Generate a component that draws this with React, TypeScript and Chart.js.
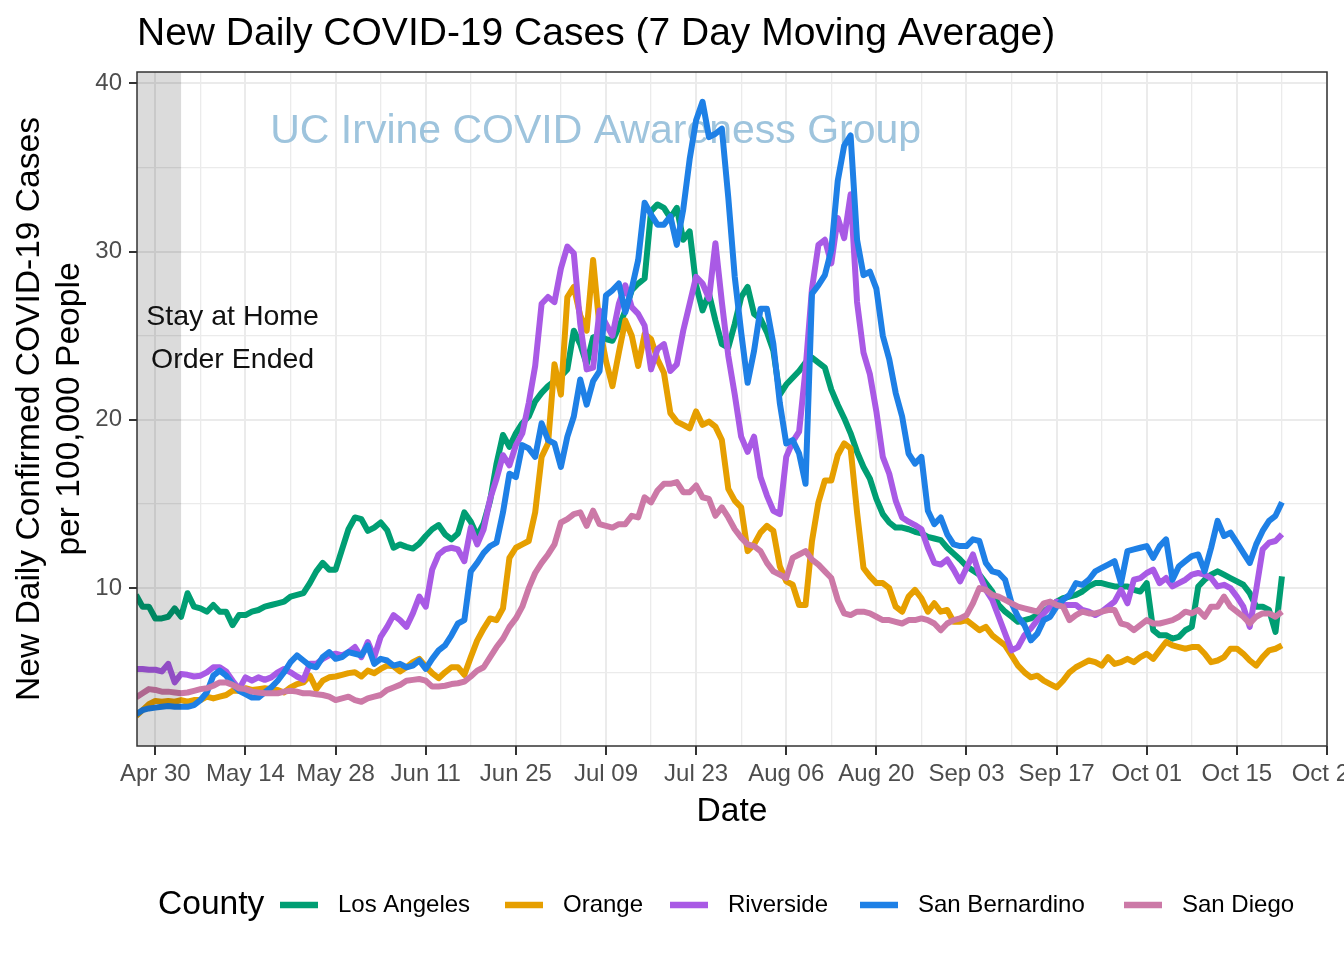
import React, { useEffect, useRef } from 'react';
import { Chart, registerables } from 'chart.js';

Chart.register(...registerables);

// x values are days relative to Apr 30, 2020; first observation is Apr 27 (day -3)
const FIRST_DAY = -3;

const seriesNames = ['Los Angeles', 'Orange', 'Riverside', 'San Bernardino', 'San Diego'];
const seriesColors = ['#009E73', '#E69F00', '#A95AE5', '#1E80E6', '#CC79A7'];

const losAngeles = [
  9.6, 8.9, 8.9, 8.2, 8.2, 8.3, 8.8, 8.3, 9.7, 8.9,
  8.8, 8.6, 9.0, 8.6, 8.6, 7.8, 8.4, 8.4, 8.6, 8.7,
  8.9, 9.0, 9.1, 9.2, 9.5, 9.6, 9.7, 10.3, 11.0, 11.5,
  11.1, 11.1, 12.3, 13.5, 14.2, 14.1, 13.4, 13.6, 13.9, 13.45,
  12.4, 12.6, 12.45, 12.35, 12.65, 13.1, 13.5, 13.75, 13.2, 12.9,
  13.25, 14.5, 13.95, 13.1, 13.85, 15.2, 17.4, 19.1, 18.4, 19.2,
  19.8, 20.2, 21.1, 21.6, 22.0, 22.3, 22.6, 23.0, 25.3, 24.5,
  23.3, 24.9, 25.0, 24.8, 24.7, 25.5, 26.5, 27.7, 28.1, 28.4,
  32.4, 32.8, 32.6, 32.0, 32.6, 30.7, 31.2, 28.0, 26.5, 27.5,
  25.9, 24.5, 24.3, 25.7, 27.3, 27.9, 26.3, 26.0, 25.2, 24.1,
  21.5, 22.1, 22.5, 22.9, 23.4, 23.7, 23.4, 23.1, 21.8, 20.9,
  20.1, 19.2, 18.1, 17.2, 16.5, 15.3, 14.4, 13.9, 13.6, 13.6,
  13.5, 13.35, 13.25, 13.05, 12.95, 12.85, 12.4, 12.05, 11.7, 11.3,
  11.05, 10.8, 10.3, 9.8, 9.0, 8.6, 8.3, 8.0, 8.1, 8.2,
  8.4, 8.6, 8.9, 9.2, 9.4, 9.5, 9.6, 9.8, 10.1, 10.3,
  10.3, 10.2, 10.1, 10.1, 10.1, 9.9, 9.8, 10.3, 7.5, 7.2,
  7.2, 7.0, 7.1, 7.5, 7.7, 10.1, 10.5, 10.8, 11.0, 10.8,
  10.6, 10.4, 10.2, 9.7, 8.9, 8.9, 8.7, 7.4, 10.7,
];

const orange = [
  2.4, 2.75, 3.1, 3.3, 3.25, 3.3, 3.25, 3.35, 3.25, 3.35,
  3.35, 3.55, 3.45, 3.55, 3.65, 3.9, 3.9, 4.05, 3.95, 4.0,
  4.05, 4.0, 3.95, 3.8, 4.1, 4.3, 4.4, 4.8, 4.0, 4.5,
  4.7, 4.75, 4.85, 4.95, 5.0, 4.75, 5.1, 4.95, 5.2, 5.4,
  5.35, 5.05, 5.3, 5.6, 5.8, 5.35, 4.95, 4.65, 5.0, 5.3,
  5.3, 4.85, 5.9, 6.9, 7.6, 8.2, 8.1, 8.8, 11.8, 12.4,
  12.6, 12.8, 14.5, 17.8, 18.6, 23.3, 21.5, 27.3, 27.9, 26.2,
  25.3, 29.5, 25.5, 23.5, 22.0, 24.0, 25.9, 25.0, 23.2, 25.1,
  24.8, 23.6, 22.8, 20.4, 19.9, 19.7, 19.5, 20.5, 19.7, 19.9,
  19.6, 18.8, 15.9, 15.2, 14.8, 12.2, 12.6, 13.3, 13.7, 13.4,
  11.3, 10.4, 10.2, 9.0, 9.0, 12.8, 15.1, 16.4, 16.4, 17.9,
  18.6, 18.3, 14.5, 11.2, 10.7, 10.3, 10.3, 10.0, 8.9, 8.6,
  9.5, 9.9, 9.4, 8.6, 9.1, 8.6, 8.7, 8.0, 8.0, 8.1,
  7.8, 7.5, 7.7, 7.2, 6.9, 6.6, 6.0, 5.4, 5.0, 4.7,
  4.8, 4.5, 4.3, 4.1, 4.5, 5.0, 5.3, 5.5, 5.7, 5.6,
  5.4, 5.9, 5.5, 5.6, 5.8, 5.6, 5.9, 6.1, 5.8, 6.3,
  6.8, 6.6, 6.5, 6.4, 6.5, 6.5, 6.1, 5.6, 5.7, 5.9,
  6.4, 6.4, 6.1, 5.7, 5.4, 5.9, 6.3, 6.4, 6.6,
];

const riverside = [
  5.2, 5.2, 5.15, 5.15, 5.05, 5.5, 4.4, 4.9, 4.85, 4.75,
  4.8, 5.0, 5.3, 5.3, 5.05, 4.5, 4.0, 4.7, 4.5, 4.7,
  4.55, 4.7, 5.0, 5.2, 5.0, 4.75, 4.55, 5.5, 5.5, 5.8,
  6.0, 6.1, 6.0, 6.2, 6.5, 5.9, 6.8, 5.9, 7.1, 7.7,
  8.4, 8.1, 7.7, 8.5, 9.5, 8.9, 11.1, 12.0, 12.3, 12.4,
  12.3, 11.6, 13.6, 12.6, 13.5, 15.3, 16.5, 17.9, 17.3, 18.5,
  19.2, 21.0, 23.2, 26.9, 27.3, 27.0, 29.0, 30.3, 29.9, 25.7,
  23.0, 23.1, 26.5, 25.7, 25.0, 26.9, 28.0, 26.7, 26.3, 25.6,
  23.0, 24.2, 24.5, 22.9, 23.3, 25.3, 26.9, 28.5, 28.1, 27.2,
  30.5, 27.0, 23.8, 21.5, 19.0, 18.1, 19.0, 16.6, 15.5, 14.6,
  14.4, 17.8, 18.7, 19.3, 23.0, 27.8, 30.4, 30.7, 29.3, 32.0,
  30.8, 33.4, 27.0, 24.0, 22.7, 20.5, 17.8, 16.8, 15.2, 14.2,
  13.95, 13.75, 13.5, 12.4, 11.5, 11.4, 11.7, 11.1, 10.4, 11.2,
  12.0, 10.8, 9.9, 9.3, 8.3, 7.3, 6.3, 6.5, 7.2, 7.6,
  8.1, 8.5, 8.9, 9.2, 9.0, 9.0, 9.0, 8.7, 8.6, 8.4,
  8.6, 8.9, 9.2, 9.9, 9.1, 10.5, 10.6, 10.9, 11.1, 10.3,
  10.6, 10.1, 10.3, 10.5, 10.8, 10.9, 10.8, 10.6, 10.1, 10.2,
  10.0, 9.5, 8.9, 7.7, 9.9, 12.3, 12.7, 12.8, 13.2,
];

const sanBernardino = [
  2.5, 2.75, 2.85, 2.9, 2.95, 3.0, 2.95, 2.95, 2.95, 3.05,
  3.35, 3.8, 4.8, 5.1, 4.8, 4.3, 3.9, 3.7, 3.5, 3.5,
  3.8, 4.1, 4.5, 5.0, 5.6, 6.0, 5.7, 5.4, 5.3, 5.9,
  6.2, 5.8, 5.9, 6.2, 6.1, 6.0, 6.6, 5.5, 5.8, 5.7,
  5.4, 5.5, 5.3, 5.4, 5.7, 5.2, 5.8, 6.3, 6.6, 7.2,
  7.9, 8.1, 11.0, 11.5, 12.1, 12.5, 12.7, 14.5, 16.8, 16.6,
  18.5, 18.3, 17.8, 19.8, 18.8, 18.6, 17.2, 19.0, 20.2, 22.4,
  20.9, 22.3, 22.9, 27.4, 27.7, 28.1, 26.4, 27.8, 29.5, 32.9,
  32.2, 31.6, 31.6, 32.1, 30.4, 32.5, 35.5, 37.8, 38.9, 36.8,
  37.0, 37.3, 33.2, 28.5, 25.2, 22.2, 24.1, 26.6, 26.6, 24.5,
  21.0, 18.6, 18.8, 18.0, 16.2, 27.5, 28.0, 28.6, 30.1, 34.2,
  36.3, 36.9, 30.7, 28.6, 28.8, 27.8, 25.0, 23.6, 21.6, 20.2,
  18.0, 17.4, 17.8, 14.6, 13.8, 14.2, 13.2, 12.6, 12.5, 12.5,
  12.9, 12.8, 11.5, 11.0, 10.9, 10.5, 9.1, 8.3, 7.8, 6.9,
  7.3, 8.1, 8.3, 8.9, 9.3, 9.6, 10.3, 10.2, 10.5, 11.0,
  11.2, 11.4, 11.6, 10.3, 12.2, 12.3, 12.4, 12.5, 11.8, 12.5,
  12.9, 10.5, 11.3, 11.6, 11.9, 12.0, 11.0, 12.4, 14.0, 13.1,
  13.3, 12.7, 12.1, 11.5, 12.6, 13.4, 14.0, 14.3, 15.1,
];

const sanDiego = [
  3.5, 3.75, 4.0, 3.95, 3.85, 3.85, 3.8, 3.75, 3.8, 3.9,
  4.0, 4.05, 4.2, 4.4, 4.4, 4.25, 4.05, 4.0, 3.85, 3.8,
  3.75, 3.75, 3.75, 3.85, 3.9, 3.85, 3.75, 3.75, 3.7, 3.65,
  3.55, 3.35, 3.45, 3.55, 3.35, 3.25, 3.45, 3.55, 3.65, 3.95,
  4.1, 4.25, 4.5, 4.55, 4.6, 4.5, 4.15, 4.15, 4.2, 4.3,
  4.35, 4.45, 4.75, 5.1, 5.3, 5.9, 6.5, 7.0, 7.7, 8.2,
  8.9, 10.0, 10.9, 11.5, 12.0, 12.6, 13.9, 14.1, 14.4, 14.5,
  13.7, 14.6, 13.8, 13.7, 13.6, 13.8, 13.8, 14.3, 14.2, 15.4,
  15.1, 15.8, 16.2, 16.2, 16.3, 15.7, 15.7, 16.1, 15.4, 15.3,
  14.3, 14.8, 14.2, 13.5, 13.0, 12.6, 12.5, 12.2, 11.5, 11.0,
  10.8, 10.6, 11.8, 12.0, 12.2, 11.7, 11.4, 11.0, 10.6, 9.3,
  8.5, 8.4, 8.6, 8.6, 8.5, 8.3, 8.1, 8.1, 8.0, 7.9,
  8.1, 8.1, 8.2, 8.1, 7.9, 7.5, 7.9, 8.1, 8.2, 8.4,
  9.1, 10.0, 9.9, 9.6, 9.5, 9.3, 9.1, 8.9, 8.8, 8.7,
  8.6, 9.1, 9.2, 9.0, 8.9, 8.1, 8.4, 8.6, 8.5, 8.5,
  8.6, 8.7, 8.7, 7.9, 7.8, 7.5, 7.8, 8.1, 7.9, 7.9,
  8.0, 8.1, 8.3, 8.6, 8.5, 8.7, 8.3, 8.9, 8.9, 9.5,
  8.9, 8.6, 8.3, 7.9, 8.3, 8.5, 8.5, 8.3, 8.6,
];

const seriesValues = [losAngeles, orange, riverside, sanBernardino, sanDiego];

// axis ticks (days relative to Apr 30)
const xTickDays = [0, 14, 28, 42, 56, 70, 84, 98, 112, 126, 140, 154, 168, 182];
const xTickLabels = ['Apr 30', 'May 14', 'May 28', 'Jun 11', 'Jun 25', 'Jul 09', 'Jul 23', 'Aug 06', 'Aug 20', 'Sep 03', 'Sep 17', 'Oct 01', 'Oct 15', 'Oct 29'];
const xMinorDays = [7, 21, 35, 49, 63, 77, 91, 105, 119, 133, 147, 161, 175];
const yTickValues = [10, 20, 30, 40];
const yMinorValues = [5, 15, 25, 35];

const TITLE = 'New Daily COVID-19 Cases (7 Day Moving Average)';
const X_TITLE = 'Date';
const Y_TITLE = ['New Daily Confirmed COVID-19 Cases', 'per 100,000 People'];
const LEGEND_TITLE = 'County';
const WATERMARK = 'UC Irvine COVID Awareness Group';
const NOTE_LINES = ['Stay at Home', 'Order Ended'];

const FONT = '"Liberation Sans", Arial, Helvetica, sans-serif';

const X_MIN = -2.85;
const X_MAX = 182;
const Y_MIN = 0.62;
const Y_MAX = 40.67;
const SHADE_END_DAY = 4;
const NOTE_DAY = 12;
const NOTE_VALUE = 24.85;
const WATERMARK_DAY = 68.4;
const WATERMARK_VALUE = 37.1;

const LEGEND_KEY_X = [280, 505, 670, 860, 1124];

const isMajorX = (v: number) => xTickDays.includes(v);
const isMajorY = (v: number) => yTickValues.includes(v);

const decorPlugin = {
  id: 'decor',
  beforeDatasetsDraw(chart: any) {
    const { ctx, scales } = chart;
    const x = scales.x;
    const y = scales.y;
    ctx.save();
    ctx.font = `41px ${FONT}`;
    ctx.fillStyle = '#9EC4DD';
    ctx.textAlign = 'center';
    ctx.textBaseline = 'middle';
    ctx.fillText(WATERMARK, x.getPixelForValue(WATERMARK_DAY), y.getPixelForValue(WATERMARK_VALUE));
    ctx.restore();
  },
  afterDatasetsDraw(chart: any) {
    const { ctx, chartArea: a, scales } = chart;
    const x = scales.x;
    const y = scales.y;
    ctx.save();
    // shaded period
    ctx.fillStyle = 'rgba(0,0,0,0.14)';
    const xr = x.getPixelForValue(SHADE_END_DAY);
    ctx.fillRect(a.left, a.top, xr - a.left, a.bottom - a.top);
    // annotation
    ctx.fillStyle = '#111111';
    ctx.font = `28.5px ${FONT}`;
    ctx.textAlign = 'center';
    ctx.textBaseline = 'middle';
    const cx = x.getPixelForValue(NOTE_DAY);
    const cy = y.getPixelForValue(NOTE_VALUE);
    ctx.fillText(NOTE_LINES[0], cx, cy - 21.5);
    ctx.fillText(NOTE_LINES[1], cx, cy + 21.5);
    // panel border
    ctx.strokeStyle = '#333333';
    ctx.lineWidth = 1.5;
    ctx.strokeRect(a.left, a.top, a.right - a.left, a.bottom - a.top);
    ctx.restore();
  },
  afterDraw(chart: any) {
    const { ctx, chartArea: a } = chart;
    ctx.save();
    // title
    ctx.fillStyle = '#000000';
    ctx.font = `39px ${FONT}`;
    ctx.textAlign = 'left';
    ctx.textBaseline = 'alphabetic';
    ctx.fillText(TITLE, a.left, 45);
    // legend
    const ly = 905;
    ctx.textBaseline = 'middle';
    ctx.font = `33.6px ${FONT}`;
    ctx.fillText(LEGEND_TITLE, 158, ly);
    ctx.font = `24px ${FONT}`;
    seriesNames.forEach((name, i) => {
      const kx = LEGEND_KEY_X[i];
      ctx.strokeStyle = seriesColors[i];
      ctx.lineWidth = 6.5;
      ctx.lineCap = 'butt';
      ctx.beginPath();
      ctx.moveTo(kx, ly);
      ctx.lineTo(kx + 38, ly);
      ctx.stroke();
      ctx.fillStyle = '#000000';
      ctx.fillText(name, kx + 58, ly);
    });
    ctx.restore();
  },
};

export default function App() {
  const ref = useRef<HTMLCanvasElement>(null);

  useEffect(() => {
    const canvas = ref.current;
    if (!canvas) return;
    const datasets = seriesNames.map((name, i) => ({
      label: name,
      data: seriesValues[i].map((v, j) => ({ x: FIRST_DAY + j, y: v })),
      borderColor: seriesColors[i],
      backgroundColor: seriesColors[i],
      borderWidth: 6,
      pointRadius: 0,
      pointHoverRadius: 0,
      tension: 0,
      fill: false,
      borderJoinStyle: 'round' as const,
      borderCapStyle: 'butt' as const,
      order: seriesNames.length - i,
    }));

    const chart = new Chart(canvas, {
      type: 'line',
      data: { datasets },
      plugins: [decorPlugin],
      options: {
        animation: false,
        responsive: false,
        devicePixelRatio: 1,
        events: [],
        layout: { padding: { left: 0, top: 72, right: 17, bottom: 124 } },
        plugins: {
          legend: { display: false },
          tooltip: { enabled: false },
          title: { display: false },
        },
        scales: {
          x: {
            type: 'linear',
            min: X_MIN,
            max: X_MAX,
            afterBuildTicks: (scale: any) => {
              scale.ticks = [...xTickDays, ...xMinorDays].sort((p, q) => p - q).map((v) => ({ value: v }));
            },
            afterFit: (scale: any) => {
              scale.height = 90;
              scale.paddingLeft = 0;
              scale.paddingRight = 0;
            },
            ticks: {
              autoSkip: false,
              maxRotation: 0,
              minRotation: 0,
              padding: 5,
              color: '#4D4D4D',
              font: { family: FONT, size: 24 },
              callback: (v: any) => {
                const k = xTickDays.indexOf(Number(v));
                return k >= 0 ? xTickLabels[k] : '';
              },
            },
            grid: {
              color: '#EBEBEB',
              lineWidth: (c: any) => (c.tick && isMajorX(c.tick.value) ? 2 : 1.3),
              tickColor: (c: any) => (c.tick && isMajorX(c.tick.value) ? '#333333' : 'rgba(0,0,0,0)'),
              tickLength: 9,
              tickWidth: 2,
              drawTicks: true,
            },
            border: { display: false },
            title: {
              display: true,
              text: X_TITLE,
              color: '#000000',
              font: { family: FONT, size: 33.6, lineHeight: 1.19 },
              padding: { top: 0, bottom: 4 },
            },
          },
          y: {
            type: 'linear',
            min: Y_MIN,
            max: Y_MAX,
            afterBuildTicks: (scale: any) => {
              scale.ticks = [...yMinorValues, ...yTickValues].sort((p, q) => p - q).map((v) => ({ value: v }));
            },
            afterFit: (scale: any) => {
              scale.width = 137;
              scale.paddingTop = 0;
              scale.paddingBottom = 0;
            },
            ticks: {
              padding: 7,
              color: '#4D4D4D',
              font: { family: FONT, size: 24 },
              callback: (v: any) => (isMajorY(Number(v)) ? String(v) : ''),
            },
            grid: {
              color: '#EBEBEB',
              lineWidth: (c: any) => (c.tick && isMajorY(c.tick.value) ? 2 : 1.3),
              tickColor: (c: any) => (c.tick && isMajorY(c.tick.value) ? '#333333' : 'rgba(0,0,0,0)'),
              tickLength: 8,
              tickWidth: 2,
              drawTicks: true,
            },
            border: { display: false },
            title: {
              display: true,
              text: Y_TITLE,
              color: '#000000',
              font: { family: FONT, size: 33.6, lineHeight: 1.19 },
              padding: { top: 10, bottom: 0 },
            },
          },
        },
      } as any,
    });
    return () => chart.destroy();
  }, []);

  return (
    <div style={{ position: 'fixed', left: 0, top: 0, width: 1344, height: 960, background: '#ffffff' }}>
      <canvas ref={ref} width={1344} height={960} style={{ width: 1344, height: 960, display: 'block' }} />
    </div>
  );
}
